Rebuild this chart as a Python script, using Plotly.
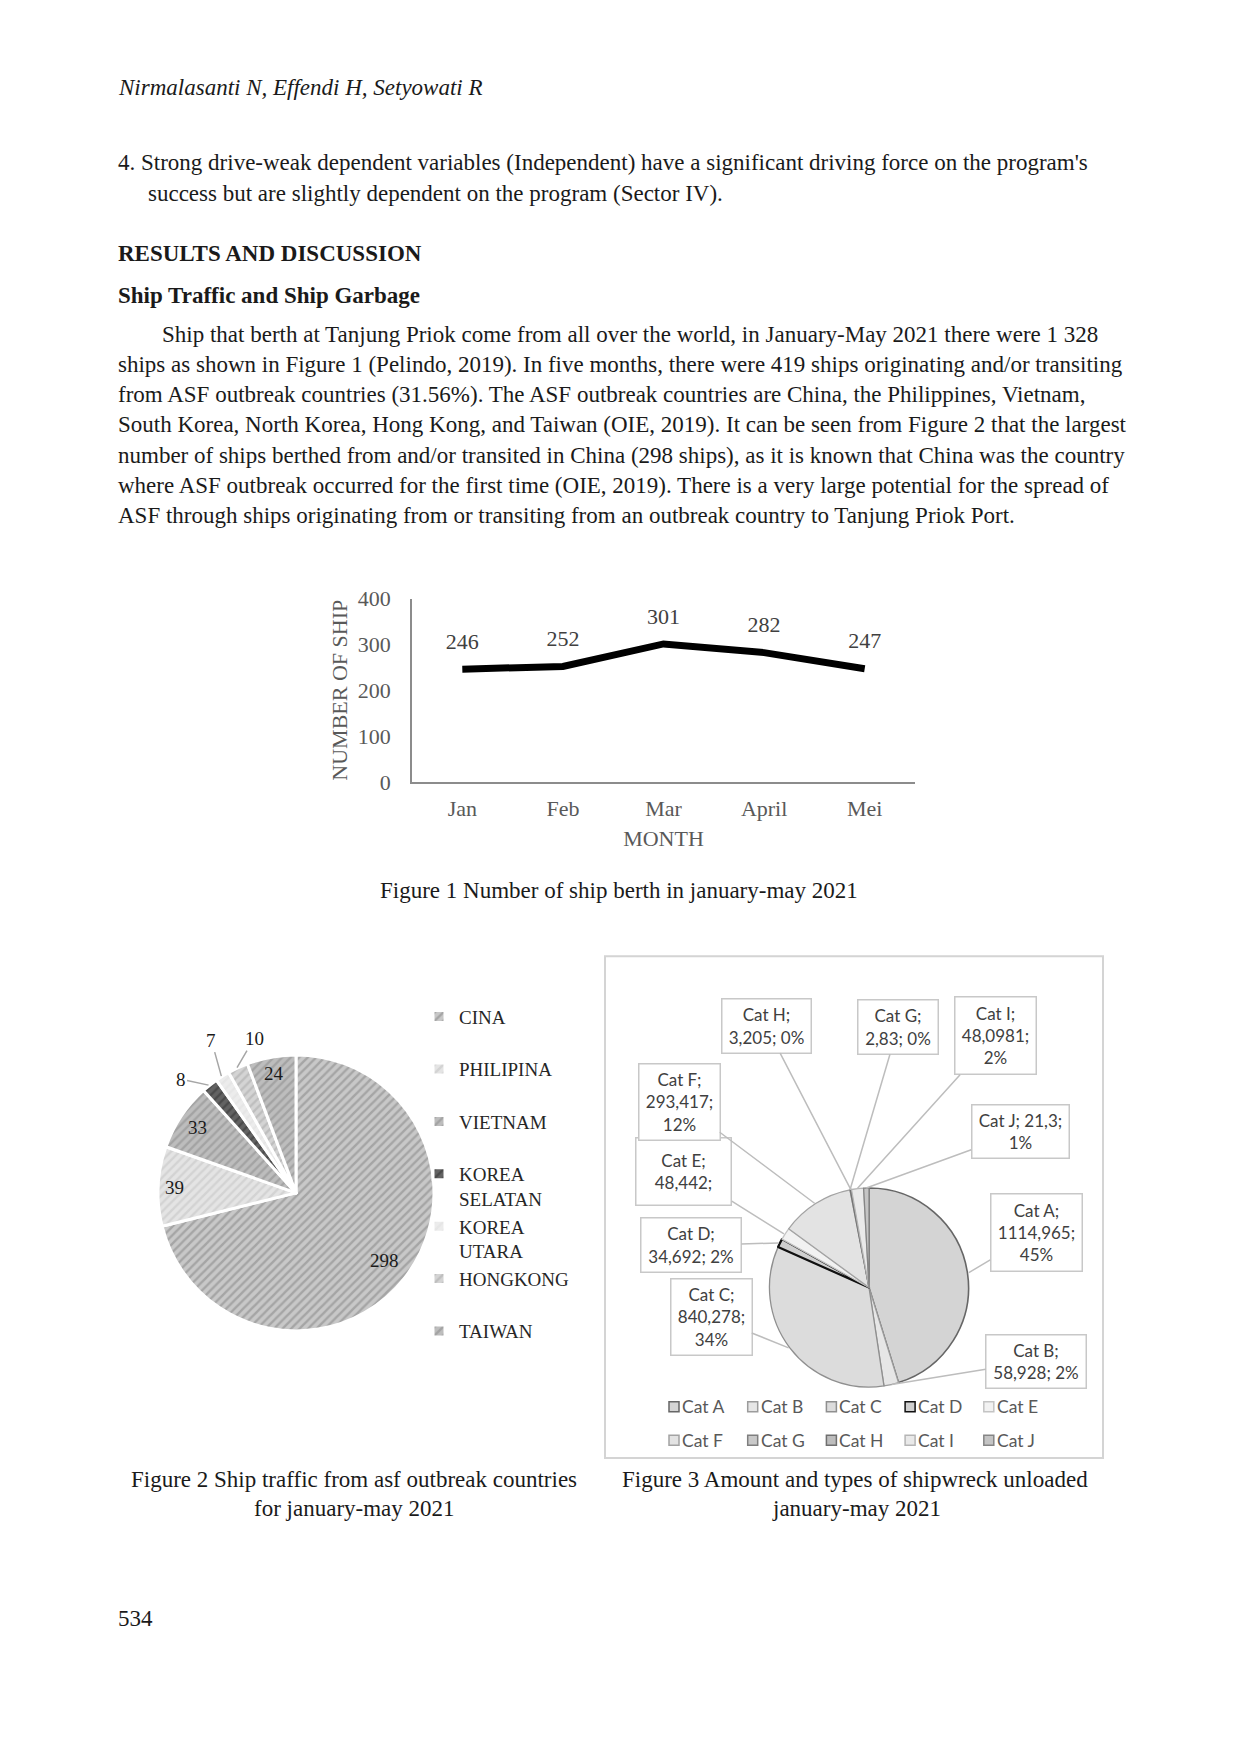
import math
import plotly.graph_objects as go

# page is 1240x1754; the html body has an 8px margin, so the figure is drawn
# 8px in and shrunk to fit without scrollbars
PAGE_W, PAGE_H, OFF = 1240, 1754, 8
W, H = PAGE_W - 2 * OFF, PAGE_H - 2 * OFF
SERIF = "Liberation Serif, Times New Roman, serif"
SANS = "Lato, Carlito, Calibri, sans-serif"
INK = "#1a1a1a"
AXIS_GRAY = "#595959"

# Figure 1: ships berthed per month
months = ["Jan", "Feb", "Mar", "April", "Mei"]
ship_berth = [246, 252, 301, 282, 247]

# Figure 2: ships from ASF outbreak countries
countries = ["CINA", "PHILIPINA", "VIETNAM", "KOREA SELATAN", "KOREA UTARA", "HONGKONG", "TAIWAN"]
country_ships = [298, 39, 33, 8, 7, 10, 24]

# Figure 3: shipwreck (garbage) unloaded
garbage_cats = ["Cat A", "Cat B", "Cat C", "Cat D", "Cat E", "Cat F", "Cat G", "Cat H", "Cat I", "Cat J"]
garbage_amount = [1114.965, 58.928, 840.278, 34.692, 48.442, 293.417, 2.83, 3.205, 48.0981, 21.3]
garbage_pct = ["45%", "2%", "34%", "2%", "", "12%", "0%", "0%", "2%", "1%"]

# page text
header = "Nirmalasanti N, Effendi H, Setyowati R"
point4 = [
    "4. Strong drive-weak dependent variables (Independent) have a significant driving force on the program's",
    "success but are slightly dependent on the program (Sector IV).",
]
para_lines = [
    "Ship that berth at Tanjung Priok come from all over the world, in January-May 2021 there were 1 328",
    "ships as shown in Figure 1 (Pelindo, 2019). In five months, there were 419 ships originating and/or transiting",
    "from ASF outbreak countries (31.56%). The ASF outbreak countries are China, the Philippines, Vietnam,",
    "South Korea, North Korea, Hong Kong, and Taiwan (OIE, 2019). It can be seen from Figure 2 that the largest",
    "number of ships berthed from and/or transited in China (298 ships), as it is known that China was the country",
    "where ASF outbreak occurred for the first time (OIE, 2019). There is a very large potential for the spread of",
    "ASF through ships originating from or transiting from an outbreak country to Tanjung Priok Port.",
]


def px(x):
    return (x - OFF) / W


def py(y):
    return 1 - (y - OFF) / H


fig = go.Figure()


def text(x, y, s, size=23, anchor="left", color=INK, family=SERIF):
    fig.add_annotation(
        x=px(x), y=py(y), xref="paper", yref="paper", text=s, showarrow=False,
        xanchor=anchor, yanchor="middle", font=dict(family=family, size=size, color=color),
    )


# ---------------- page text ----------------
LM = 116
text(LM, 76, f"<i>{header}</i>")
text(LM, 153, point4[0])
text(LM + 30, 184, point4[1])
text(LM, 245, "<b>RESULTS AND DISCUSSION</b>")
text(LM, 288, "<b>Ship Traffic and Ship Garbage</b>")
for i, line in enumerate(para_lines):
    text(LM + 44 if i == 0 else LM, 327 + i * 30.6, line)

text(619, 891, "Figure 1 Number of ship berth in january-may 2021", anchor="center")
text(354, 1489, "Figure 2 Ship traffic from asf outbreak countries", anchor="center")
text(354, 1518, "for january-may 2021", anchor="center")
text(620, 1489, "Figure 3 Amount and types of shipwreck unloaded")
text(856, 1518, "january-may 2021", anchor="center")
text(LM, 1630, "534")

# ---------------- Figure 1: line chart ----------------
fig.add_trace(
    go.Scatter(
        x=months,
        y=ship_berth,
        mode="lines+markers+text",
        text=[str(v) for v in ship_berth],
        textposition="top center",
        textfont=dict(family=SERIF, size=22, color="#404040"),
        line=dict(color="black", width=7),
        marker=dict(size=22, color="rgba(0,0,0,0)"),
        cliponaxis=False,
        showlegend=False,
    )
)

fig.update_layout(
    xaxis=dict(
        domain=[px(412), px(915)],
        anchor="y",
        type="category",
        range=[-0.5, 4.5],
        showline=True,
        linecolor="#8c8c8c",
        linewidth=1.5,
        showgrid=False,
        zeroline=False,
        ticks="",
        ticklabelstandoff=6,
        tickfont=dict(family=SERIF, size=22, color=AXIS_GRAY),
        title=dict(text="MONTH", standoff=11, font=dict(family=SERIF, size=22, color=AXIS_GRAY)),
    ),
    yaxis=dict(
        domain=[py(781), py(595)],
        anchor="x",
        range=[0, 400],
        dtick=100,
        showline=True,
        linecolor="#8c8c8c",
        linewidth=1.5,
        showgrid=False,
        zeroline=False,
        ticks="",
        ticklabelstandoff=15,
        tickfont=dict(family=SERIF, size=22, color=AXIS_GRAY),
        title=dict(text="NUMBER OF SHIP", standoff=4, font=dict(family=SERIF, size=22, color=AXIS_GRAY)),
    ),
)

# ---------------- Figure 2: pie of outbreak countries ----------------
p1_cx, p1_cy, p1_r = 296, 1198, 140
p1_fill = ["#c8c8c8", "#e4e4e4", "#bdbdbd", "#636363", "#ececec", "#d4d4d4", "#bdbdbd"]
p1_hatch = ["#828282", "#c2c2c2", "#8a8a8a", "#333333", "#e0e0e0", "#a8a8a8", "#8a8a8a"]
legend_names = [c.replace(" ", "<br>") if " " in c else c + "<br>\u00a0" for c in countries]

fig.add_trace(
    go.Pie(
        labels=legend_names,
        values=country_ships,
        sort=False,
        direction="clockwise",
        rotation=0,
        textinfo="none",
        hoverinfo="label+value",
        domain=dict(x=[px(p1_cx - p1_r), px(p1_cx + p1_r)], y=[py(p1_cy + p1_r), py(p1_cy - p1_r)]),
        marker=dict(
            colors=p1_fill,
            line=dict(color="white", width=3),
            pattern=dict(shape="/", fgcolor=p1_hatch, bgcolor=p1_fill, size=6, solidity=0.4, fillmode="overlay"),
        ),
        legend="legend",
    )
)

# slice value labels (inside at a radius fraction, or outside with a leader)
p1_label_pos = [("in", 0.8), ("in", 0.87), ("in", 0.85), ("out", -28, -6), ("out", -10, -36), ("out", 17, -29), ("in", 0.88)]
total1 = sum(country_ships)
cum = 0
for v, pos in zip(country_ships, p1_label_pos):
    ang = math.radians((cum + v / 2) / total1 * 360)
    cum += v
    if pos[0] == "in":
        rr = p1_r * pos[1]
        text(p1_cx + rr * math.sin(ang), p1_cy - rr * math.cos(ang), str(v), size=19, anchor="center")
    else:
        fig.add_annotation(
            x=px(p1_cx + p1_r * math.sin(ang)), y=py(p1_cy - p1_r * math.cos(ang)),
            xref="paper", yref="paper", text=str(v), showarrow=True, arrowhead=0,
            arrowcolor="#a6a6a6", arrowwidth=1.5, ax=pos[1], ay=pos[2], standoff=0,
            font=dict(family=SERIF, size=19, color=INK),
        )

# ---------------- Figure 3: pie of garbage categories ----------------
fr = dict(x0=605, x1=1103, y0=958, y1=1467)
fig.add_shape(type="rect", xref="paper", yref="paper", x0=px(fr["x0"]), x1=px(fr["x1"]),
              y0=py(fr["y1"]), y1=py(fr["y0"]), line=dict(color="#d4d4d4", width=2), layer="below")

DY = 7  # vertical shift of the whole Figure 3 group
p2_cx, p2_cy, p2_r = 869, 1287 + DY, 101
p2_fill = ["#d4d4d4", "#e6e6e6", "#dcdcdc", "#cfcfcf", "#f2f2f2", "#e3e3e3", "#c9c9c9", "#bdbdbd", "#e9e9e9", "#c4c4c4"]
p2_line = ["#666666", "#9c9c9c", "#8f8f8f", "#111111", "#c4c4c4", "#a3a3a3", "#7f7f7f", "#6f6f6f", "#b5b5b5", "#858585"]
p2_lw = [1.6, 1.3, 1.3, 2.2, 1.3, 1.3, 1.3, 1.3, 1.3, 1.3]

fig.add_trace(
    go.Pie(
        labels=garbage_cats,
        values=garbage_amount,
        sort=False,
        direction="clockwise",
        rotation=0,
        textinfo="none",
        hoverinfo="label+value+percent",
        showlegend=False,
        domain=dict(x=[px(p2_cx - p2_r), px(p2_cx + p2_r)], y=[py(p2_cy + p2_r), py(p2_cy - p2_r)]),
        marker=dict(colors=p2_fill, line=dict(color=p2_line, width=p2_lw)),
    )
)

# callout boxes: centre x, centre y, width, height, line layout
callouts = [
    (1036, 1232, 92, 78, "{c};<br>{v};<br>{p}"),
    (1036, 1362, 101, 54, "{c};<br>{v}; {p}"),
    (711, 1317, 82, 77, "{c};<br>{v};<br>{p}"),
    (691, 1244, 101, 55, "{c};<br>{v}; {p}"),
    (684, 1170, 96, 68, "{c};<br>{v};"),
    (679, 1100, 82, 77, "{c};<br>{v};<br>{p}"),
    (898, 1025, 81, 55, "{c};<br>{v}; {p}"),
    (766, 1024, 90, 55, "{c};<br>{v}; {p}"),
    (995, 1034, 82, 78, "{c};<br>{v};<br>{p}"),
    (1020, 1130, 98, 54, "{c}; {v};<br>{p}"),
]
total2 = sum(garbage_amount)
cum = 0
for cat, v, pct, (bx, by, bw, bh, tpl) in zip(garbage_cats, garbage_amount, garbage_pct, callouts):
    ang = math.radians((cum + v / 2) / total2 * 360)
    cum += v
    tx, ty = p2_cx + p2_r * math.sin(ang), p2_cy - p2_r * math.cos(ang)
    label = tpl.format(c=cat, v=str(v).replace(".", ","), p=pct)
    fig.add_annotation(
        x=px(tx), y=py(ty), xref="paper", yref="paper", text=label,
        showarrow=True, arrowhead=0, arrowcolor="#bdbdbd", arrowwidth=1.5, standoff=0,
        ax=bx - tx, ay=by + DY - ty, width=bw - 6, height=bh - 6, borderpad=2,
        bordercolor="#c8c8c8", borderwidth=1.5, bgcolor="white", align="center", valign="middle",
        font=dict(family=SANS, size=17, color="#404040"),
    )

# Figure 3 legend (two rows of five)
for i, cat in enumerate(garbage_cats):
    lx = 674 + 78.7 * (i % 5)
    ly = 1408 + DY + 34 * (i // 5)
    fig.add_shape(type="rect", xref="paper", yref="paper", x0=px(lx - 5), x1=px(lx + 5),
                  y0=py(ly + 5), y1=py(ly - 5), fillcolor=p2_fill[i],
                  line=dict(color=p2_line[i], width=1.5))
    text(lx + 6, ly, cat, size=17.5, color=AXIS_GRAY, family=SANS)

fig.update_layout(
    width=W,
    height=H,
    margin=dict(l=0, r=0, t=0, b=0),
    paper_bgcolor="white",
    plot_bgcolor="white",
    legend=dict(
        x=px(419), y=py(1000), xanchor="left", yanchor="top",
        bgcolor="rgba(0,0,0,0)", valign="top", traceorder="normal",
        font=dict(family=SERIF, size=19, color="#262626"),
    ),
)

fig.write_html("out.html")
